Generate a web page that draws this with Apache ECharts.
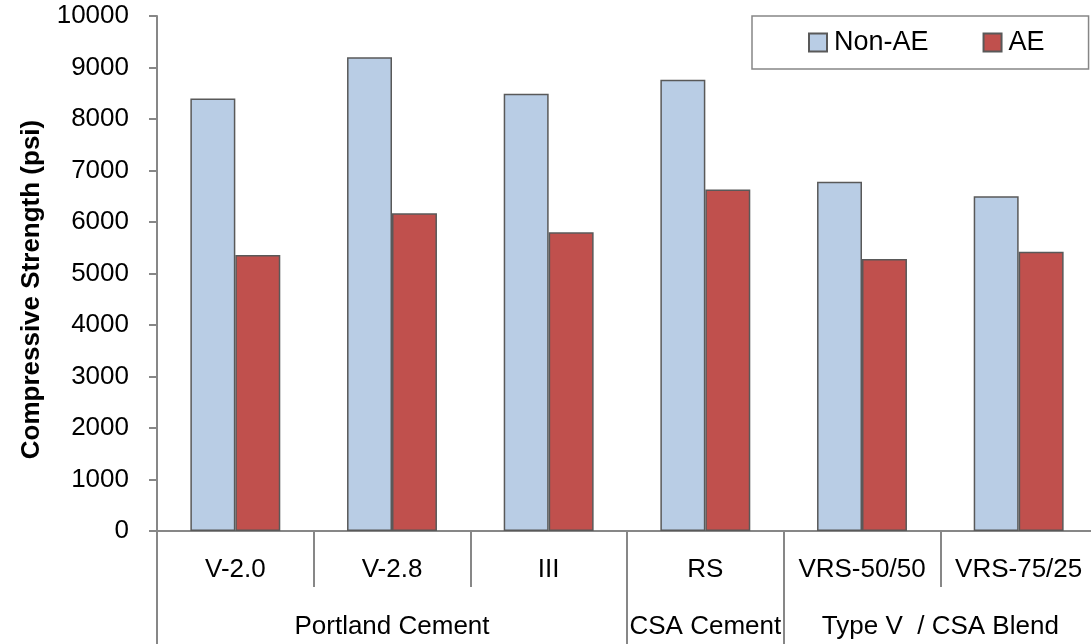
<!DOCTYPE html>
<html>
<head>
<meta charset="utf-8">
<script src="https://cdn.jsdelivr.net/npm/echarts@6/dist/echarts.min.js"></script>
<style>
html,body{margin:0;padding:0;background:#fff;}
#chart{width:1091px;height:644px;}
</style>
</head>
<body>
<div id="chart"></div>
<script>
// ---- data ----
const categories = ['V-2.0', 'V-2.8', 'III', 'RS', 'VRS-50/50', 'VRS-75/25'];
const nonAE = [8400, 9200, 8490, 8760, 6780, 6500];
const AE = [5360, 6170, 5800, 6630, 5280, 5420];
const seriesNames = ['Non-AE', 'AE'];
// group labels placed on a half-category grid (13 points spanning 6 categories)
const groupSlots = ['', '', '', 'Portland Cement', '', '', '', 'CSA Cement', '', '', 'Type V  / CSA Blend', '', ''];
const groupBoundaries = [0, 6, 8, 12];
const yTicks = { min: 0, max: 10000, interval: 1000 };
const yTitle = 'Compressive Strength (psi)';

const FONT = 'Liberation Sans, Arial, sans-serif';
const AXIS_GRAY = '#878787';

const chart = echarts.init(document.getElementById('chart'), null, { renderer: 'canvas' });
chart.setOption({
  animation: false,
  backgroundColor: '#ffffff',
  textStyle: { fontFamily: FONT },
  legend: {
    data: seriesNames,
    left: 752,
    top: 16,
    width: 260,
    orient: 'horizontal',
    itemWidth: 18,
    itemHeight: 18,
    itemGap: 54,
    padding: [13, 44, 13, 56],
    borderColor: '#868686',
    borderWidth: 1.5,
    backgroundColor: '#fff',
    textStyle: { fontFamily: FONT, fontSize: 27, color: '#000', padding: [0, 0, 0, 2] },
    icon: 'rect'
  },
  grid: {
    left: 157,
    right: -6,
    top: 16,
    bottom: 113,
    containLabel: false,
    outerBoundsMode: 'none'
  },
  xAxis: [
    {
      type: 'category',
      data: categories,
      position: 'bottom',
      axisLine: { show: true, lineStyle: { color: AXIS_GRAY, width: 2 } },
      axisTick: { show: true, interval: 0, length: 56, lineStyle: { color: AXIS_GRAY, width: 2 } },
      axisLabel: { interval: 0, margin: 26, fontFamily: FONT, fontSize: 26, color: '#000' },
      splitLine: { show: false }
    },
    {
      type: 'category',
      data: groupSlots,
      position: 'bottom',
      boundaryGap: false,
      axisLine: { show: false },
      axisTick: {
        show: true,
        length: 130,
        interval: function (index) { return groupBoundaries.indexOf(index) >= 0; },
        lineStyle: { color: AXIS_GRAY, width: 2 }
      },
      axisLabel: { interval: 0, margin: 83, fontFamily: FONT, fontSize: 26, color: '#000' },
      splitLine: { show: false }
    }
  ],
  yAxis: {
    type: 'value',
    min: yTicks.min,
    max: yTicks.max,
    interval: yTicks.interval,
    name: yTitle,
    nameLocation: 'middle',
    nameGap: 112,
    nameRotate: 90,
    nameTextStyle: { fontFamily: FONT, fontSize: 26, fontWeight: 'bold', color: '#000', padding: [0, 32, 0, 0] },
    axisLine: { show: true, lineStyle: { color: AXIS_GRAY, width: 2 } },
    axisTick: { show: true, length: 8, lineStyle: { color: AXIS_GRAY, width: 2 } },
    axisLabel: {
      margin: 28, fontFamily: FONT, fontSize: 26, color: '#000',
      formatter: function (v) { return String(v); }
    },
    splitLine: { show: false }
  },
  series: [
    {
      name: seriesNames[0],
      type: 'bar',
      data: nonAE,
      barGap: '0%',
      barCategoryGap: '42.6%',
      itemStyle: { color: '#B9CDE5', borderColor: '#595959', borderWidth: 1.5 }
    },
    {
      name: seriesNames[1],
      type: 'bar',
      data: AE,
      barGap: '0%',
      barCategoryGap: '42.6%',
      itemStyle: { color: '#C0504D', borderColor: '#595959', borderWidth: 1.5 }
    }
  ]
});
</script>
</body>
</html>
